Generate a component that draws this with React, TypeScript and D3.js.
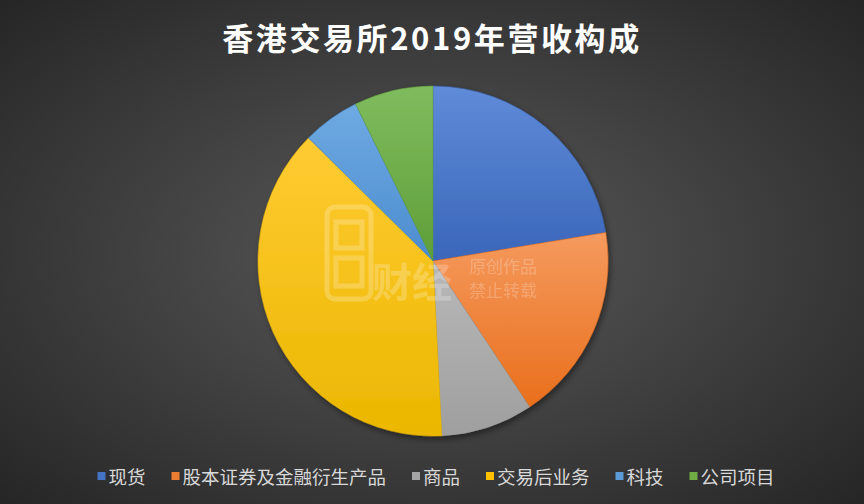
import React from "react";
import * as d3 from "d3";

const categories = ["现货", "股本证券及金融衍生产品", "商品", "交易后业务", "科技", "公司项目"];
const values = [22.4, 18.3, 8.5, 38.2, 5.3, 7.3];
const colorsTop = ["#5F8BD8", "#F59A5E", "#B8B8B8", "#FFCB33", "#6EAAE2", "#80BC5E"];
const colorsBottom = ["#3A66BA", "#E96F1C", "#9F9F9F", "#EBB700", "#4C8CCF", "#5E9E38"];
const legendColors = ["#4472C4", "#ED7D31", "#A5A5A5", "#FFC000", "#5B9BD5", "#70AD47"];
const title = "香港交易所2019年营收构成";

const W = 864;
const H = 504;
const cx = 433;
const cy = 261;
const R = 175;

export default function App() {
  const pie = d3.pie<number>().sort(null).value((d) => d);
  const arcs = pie(values);
  const arcGen = d3.arc<d3.PieArcDatum<number>>().innerRadius(0).outerRadius(R);

  const fs = 18.5;
  const markerSize = 8;
  const gapMarkerText = 3;
  const itemGap = 26;
  const widths = categories.map((c) => markerSize + gapMarkerText + c.length * fs);
  const total = d3.sum(widths) + itemGap * (categories.length - 1);
  let x0 = 436 - total / 2;
  const legendItems = categories.map((c, i) => {
    const x = x0;
    x0 += widths[i] + itemGap;
    return { c, x, i };
  });
  const legendY = 476;

  return (
    <svg width={W} height={H} style={{ position: "absolute", left: 0, top: 0 }}>
      <defs>
        <radialGradient id="bg" cx="50%" cy="50%" r="70%">
          <stop offset="0%" stopColor="#5a5a5a" />
          <stop offset="100%" stopColor="#262626" />
        </radialGradient>
        {categories.map((_, i) => (
          <linearGradient key={i} id={`g${i}`} x1="0" y1="0" x2="0" y2="1">
            <stop offset="0%" stopColor={colorsTop[i]} />
            <stop offset="100%" stopColor={colorsBottom[i]} />
          </linearGradient>
        ))}
        <filter id="shadow" x="-20%" y="-20%" width="140%" height="140%">
          <feDropShadow dx="2" dy="3" stdDeviation="3" floodColor="#000" floodOpacity="0.45" />
        </filter>
      </defs>
      <rect x={0} y={0} width={W} height={H} fill="url(#bg)" />
      <text
        x={432}
        y={50}
        textAnchor="middle"
        fill="#ffffff"
        fontSize={31}
        fontWeight={600}
        letterSpacing={2.6}
        fontFamily="'Noto Sans CJK SC', 'Noto Sans', sans-serif"
      >
        {title}
      </text>
      <g transform={`translate(${cx},${cy})`} filter="url(#shadow)">
        {arcs.map((a, i) => (
          <path key={i} d={arcGen(a) || ""} fill={`url(#g${i})`} stroke={colorsBottom[i]} strokeWidth={0.5} />
        ))}
      </g>
      <g opacity={0.22} fill="none" stroke="#ffffff" strokeWidth={5}>
        <rect x={327} y={207} width={44} height={92} rx={8} />
        <rect x={336} y={222} width={26} height={26} />
        <rect x={336} y={258} width={26} height={28} />
      </g>
      <g opacity={0.22} fill="#ffffff" fontFamily="'Noto Sans CJK SC', sans-serif">
        <text x={372} y={297} fontSize={40} fontWeight="bold">财经</text>
        <text x={469} y={273} fontSize={17}>原创作品</text>
        <text x={469} y={297} fontSize={17}>禁止转载</text>
      </g>
      <g fontFamily="'Noto Sans CJK SC', 'Noto Sans', sans-serif" fontSize={fs} fill="#d9d9d9">
        {legendItems.map(({ c, x, i }) => (
          <g key={i}>
            <rect x={x} y={legendY - markerSize / 2} width={markerSize} height={markerSize} fill={legendColors[i]} />
            <text x={x + markerSize + gapMarkerText} y={legendY} dominantBaseline="central">
              {c}
            </text>
          </g>
        ))}
      </g>
    </svg>
  );
}
